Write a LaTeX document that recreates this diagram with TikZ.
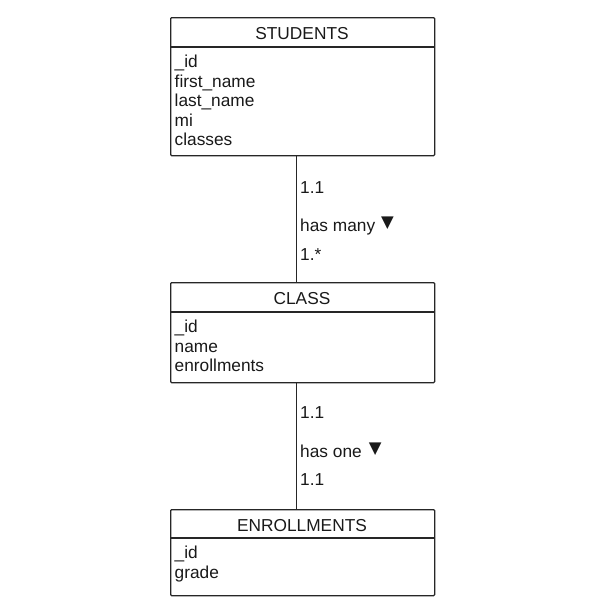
\documentclass[tikz,border=0pt]{standalone}
\usepackage{fontspec}
\setmainfont{Liberation Sans}
\newfontfamily\symfont{DejaVu Sans}
\newcommand{\downtri}{\raisebox{3.5pt}{\symfont\fontsize{16.5}{16.5}\selectfont ▼}}
\begin{document}
\begin{tikzpicture}[x=1pt,y=-1pt,
  entity/.style={draw=black!85, line width=1.3pt, rounded corners=1pt, anchor=north west, inner sep=0pt, minimum width=264pt},
  headtxt/.style={anchor=base, inner sep=0pt, font=\fontsize{17.3}{19}\selectfont, text=black!90},
  attr/.style={anchor=base west, inner sep=0pt, font=\fontsize{17.3}{19}\selectfont, text=black!90},
  lbl/.style={anchor=base west, inner sep=0pt, font=\fontsize{17.3}{19}\selectfont, text=black!90},
  rel/.style={draw=black!85, line width=1.3pt}
]
\useasboundingbox (0,0) rectangle (600,600);
% STUDENTS
\node[entity, minimum height=138pt] (students) at (170,17) {};
\draw[rel] (170,47) -- (434,47);
\node[headtxt] (studentsh) at (302,39.5) {STUDENTS};
\node[attr] (s1) at (174.5,67.5) {\_id};
\node[attr] (s2) at (174.5,87) {first\_name};
\node[attr] (s3) at (174.5,106.5) {last\_name};
\node[attr] (s4) at (174.5,126) {mi};
\node[attr] (s5) at (174.5,145.5) {classes};
% CLASS
\node[entity, minimum height=100pt] (class) at (170,282) {};
\draw[rel] (170,312) -- (434,312);
\node[headtxt] (classh) at (302,304.5) {CLASS};
\node[attr] (c1) at (174.5,332.5) {\_id};
\node[attr] (c2) at (174.5,352) {name};
\node[attr] (c3) at (174.5,371.5) {enrollments};
% ENROLLMENTS
\node[entity, minimum height=86pt] (enroll) at (170,509) {};
\draw[rel] (170,538) -- (434,538);
\node[headtxt] (enrollh) at (302,531) {ENROLLMENTS};
\node[attr] (e1) at (174.5,558.5) {\_id};
\node[attr] (e2) at (174.5,578) {grade};
% connectors
\draw[rel] ([xshift=-6pt]students.south) -- ([xshift=-6pt]class.north);
\draw[rel] ([xshift=-6pt]class.south) -- ([xshift=-6pt]enroll.north);
% labels
\node[lbl] (l1) at (300,193) {1.1};
\node[lbl] (l2) at (300,231) {has many\hspace{6pt}\downtri};
\node[lbl] (l3) at (300,260.5) {1.*};
\node[lbl] (l4) at (300,418.5) {1.1};
\node[lbl] (l5) at (300,457) {has one\hspace{7pt}\downtri};
\node[lbl] (l6) at (300,485) {1.1};
\end{tikzpicture}
\end{document}
